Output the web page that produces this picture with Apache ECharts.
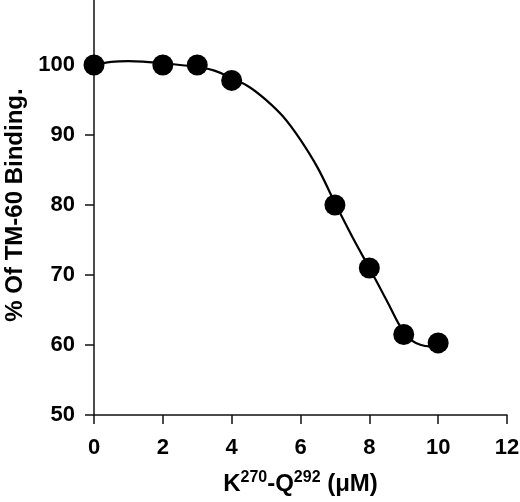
<!DOCTYPE html>
<html>
<head>
<meta charset="utf-8">
<script src="https://cdn.jsdelivr.net/npm/echarts@6/dist/echarts.min.js"></script>
<style>
html,body{margin:0;padding:0;background:#fff;}
#chart{width:520px;height:502px;}
</style>
</head>
<body>
<div id="chart"></div>
<script>
// Measured points: concentration (µM) and % binding
const concentrations = [0, 2, 3, 4, 7, 8, 9, 10];
const bindingValues = [100, 100, 100, 97.8, 80, 71, 61.5, 60.3];
// Fitted curve
const curveX = [0, 0.5, 1, 1.5, 2, 2.5, 3, 3.5, 4, 4.5, 5, 5.5, 6, 6.5, 7, 7.5, 8, 8.5, 9, 9.25, 9.5, 9.75, 10];
const curveY = [100, 100.45, 100.55, 100.45, 100.25, 100, 99.7, 99.2, 98.1, 96.9, 95, 92.6, 89.3, 85.3, 80.3, 75.5, 71, 66.4, 61.8, 60.6, 60, 59.8, 60.3];
const xTicks = [0, 2, 4, 6, 8, 10, 12];
const yTicks = [50, 60, 70, 80, 90, 100];

const FONT = '"Liberation Sans", Arial, Helvetica, sans-serif';
const chart = echarts.init(document.getElementById('chart'), null, {renderer: 'canvas'});
chart.setOption({
  animation: false,
  backgroundColor: '#fff',
  grid: {left: 94, right: 13, top: -5, bottom: 87, containLabel: false, outerBoundsMode: 'none'},
  xAxis: {
    type: 'value', min: xTicks[0], max: xTicks[xTicks.length - 1], interval: 2,
    splitLine: {show: false},
    axisLine: {lineStyle: {color: '#111', width: 1.5}},
    axisTick: {inside: false, length: 9, lineStyle: {color: '#111', width: 1.5}},
    axisLabel: {margin: 22, color: '#000', fontFamily: FONT, fontWeight: 'bold', fontSize: 22},
    name: '{b|K}{s|270}{b|-Q}{s|292}{b| (μM)}',
    nameLocation: 'middle', nameGap: 55,
    nameTextStyle: {
      rich: {
        b: {fontFamily: FONT, fontWeight: 'bold', fontSize: 24, color: '#000', verticalAlign: 'bottom', lineHeight: 26},
        s: {fontFamily: FONT, fontWeight: 'bold', fontSize: 16, color: '#000', verticalAlign: 'top', lineHeight: 26, padding: [0, 0, 10, 0]}
      }
    }
  },
  yAxis: {
    type: 'value', min: 50, max: 110, interval: 10,
    splitLine: {show: false},
    axisLine: {lineStyle: {color: '#111', width: 1.5}},
    axisTick: {inside: false, length: 9, lineStyle: {color: '#111', width: 1.5}},
    axisLabel: {margin: 19, color: '#000', fontFamily: FONT, fontWeight: 'bold', fontSize: 22, showMaxLabel: false},
    name: '% Of TM-60 Binding.',
    nameLocation: 'middle', nameGap: 62,
    nameTextStyle: {fontFamily: FONT, fontWeight: 'bold', fontSize: 24, color: '#000'}
  },
  series: [
    {
      type: 'line', smooth: 0.4, showSymbol: false,
      data: curveX.map((x, i) => [x, curveY[i]]),
      lineStyle: {color: '#000', width: 2.2}, z: 2
    },
    {
      type: 'scatter', symbol: 'circle', symbolSize: 21,
      data: concentrations.map((x, i) => [x, bindingValues[i]]),
      itemStyle: {color: '#000', opacity: 1}, z: 3
    }
  ]
});
</script>
</body>
</html>
